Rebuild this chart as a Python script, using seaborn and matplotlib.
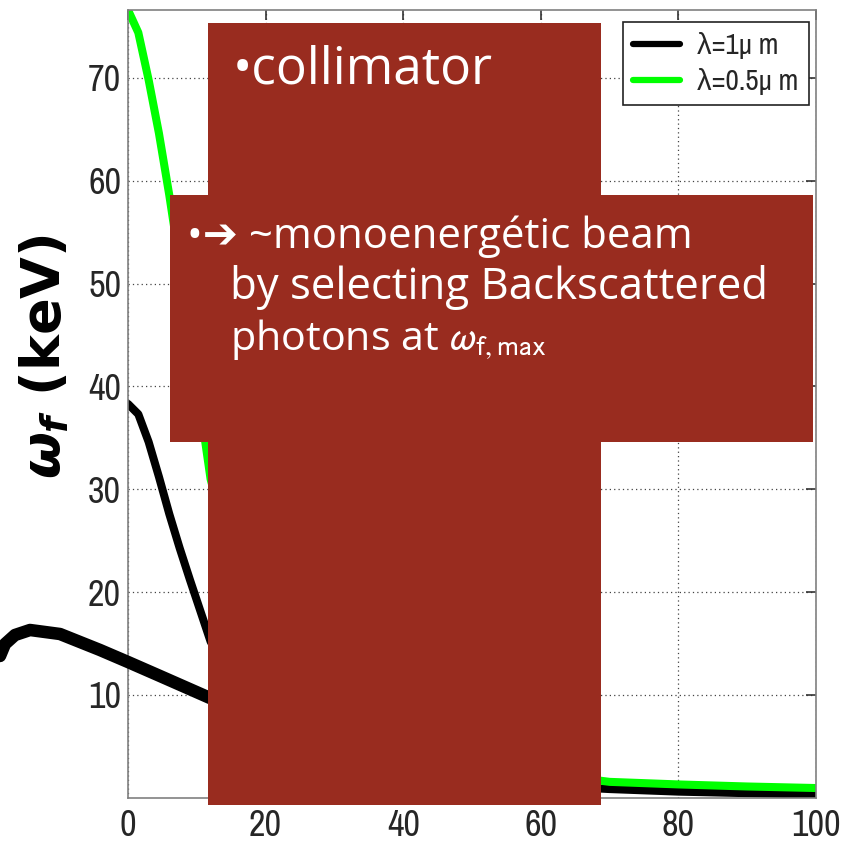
import numpy as np
import pandas as pd
import matplotlib
matplotlib.use("Agg")
import matplotlib.pyplot as plt
import matplotlib.font_manager as fm
import seaborn as sns
from matplotlib.patches import Rectangle
from matplotlib.lines import Line2D

# ---------------- data ----------------
angle = [0, 1.5, 3, 4.5, 6, 7.5, 9, 10.5, 12, 15, 20, 30, 40, 50, 60, 70, 80, 90, 100]
energy_1um = [38.3, 37.3, 34.6, 31.2, 27.6, 24.3, 21.2, 18.2, 15.2, 11.5, 7.5, 4.0, 2.5, 1.7, 1.2, 0.85, 0.6, 0.45, 0.3]
energy_05um = [76.6, 74.4, 69.8, 64.6, 58.6, 52.0, 45.0, 38.0, 31.0, 23.5, 15.5, 8.3, 5.1, 3.5, 2.4, 1.55, 1.3, 1.1, 0.95]
series_labels = ["λ=1μ m", "λ=0.5μ m"]
series_colors = ["#000000", "#00ff00"]
xticks = [0, 20, 40, 60, 80, 100]
yticks = [10, 20, 30, 40, 50, 60, 70]
ylabel_text = r"$\omega_f$ (keV)"
box1_text = "•collimator"
box2_lines = ["•➔ ~monoenergétic beam", "by selecting Backscattered", r"photons at $\omega_{\mathrm{f,max}}$"]

# decorative curve at left (slide artwork), figure pixel coords
decor_x = [0, 5, 15, 30, 60, 100, 128, 160, 210]
decor_y = [656, 644, 635, 630, 634, 650, 662, 676, 698]

# ---------------- setup ----------------
sns.set_style("white")
plt.rcParams["mathtext.fontset"] = "dejavusans"
plt.rcParams["mathtext.it"] = "DejaVu Sans:italic:bold"
plt.rcParams["mathtext.rm"] = "DejaVu Sans:bold"
plt.rcParams["mathtext.bf"] = "DejaVu Sans:bold"

names = sorted({f.name for f in fm.fontManager.ttflist})
narrow = [n for n in names if ("Narrow" in n or "Condensed" in n)]
tick_family = narrow[:1] + ["Liberation Sans", "DejaVu Sans"]
is_narrow = bool(narrow)

W, H = 846, 844
fig = plt.figure(figsize=(W / 100, H / 100), dpi=100)
fig.patch.set_facecolor("white")
ax_left, ax_right, ax_top, ax_bottom = 128, 816, 10, 797.8
ax = fig.add_axes([ax_left / W, 1 - ax_bottom / H, (ax_right - ax_left) / W, (ax_bottom - ax_top) / H])

df = pd.DataFrame({
    "angle": angle * 2,
    "energy": energy_1um + energy_05um,
    "series": [series_labels[0]] * len(angle) + [series_labels[1]] * len(angle),
})
sns.lineplot(data=df, x="angle", y="energy", hue="series",
             palette=dict(zip(series_labels, series_colors)),
             linewidth=5.8, ax=ax, legend=False, estimator=None)

ax.set_xlim(0, 100)
ax.set_ylim(0, 76.6)
ax.set_xticks(xticks)
ax.set_yticks(yticks)
ax.set_xlabel("")
ax.set_ylabel("")
ax.grid(True, color="#444444", linestyle=(0, (1, 2.5)), linewidth=0.9)
for sp in ax.spines.values():
    sp.set_color("#808080")
    sp.set_linewidth(1.2)
tick_size = 26 if is_narrow else 23
ax.tick_params(direction="in", length=7, width=1.2, color="#333333",
               top=True, right=True, labelsize=tick_size, pad=5)
ax.tick_params(axis="x", pad=8)
for lab in ax.get_xticklabels() + ax.get_yticklabels():
    lab.set_family(tick_family)

handles = [Line2D([], [], color=c, linewidth=4.5) for c in series_colors]
leg = ax.legend(handles, series_labels, loc="upper right",
                bbox_to_anchor=(809 / W, 1 - 22 / H), bbox_transform=fig.transFigure,
                borderaxespad=0, fancybox=False, framealpha=1, edgecolor="#222222",
                prop={"family": tick_family, "size": 21 if is_narrow else 19}, handlelength=1.6,
                handletextpad=0.6, labelspacing=0.3, borderpad=0.35)
leg.get_frame().set_linewidth(1.2)

# decoration curve
fig.add_artist(Line2D(np.array(decor_x) / W, 1 - np.array(decor_y) / H,
                      transform=fig.transFigure, color="black", linewidth=9,
                      solid_capstyle="round", solid_joinstyle="round", zorder=4))

red = "#992c1f"
fig.add_artist(Rectangle((208 / W, 1 - 805 / H), (601 - 208) / W, (805 - 23) / H,
                         transform=fig.transFigure, facecolor=red, edgecolor="none", zorder=5))
fig.add_artist(Rectangle((170 / W, 1 - 442 / H), (813 - 170) / W, (442 - 195) / H,
                         transform=fig.transFigure, facecolor=red, edgecolor="none", zorder=5))

renderer = fig.canvas.get_renderer()
slide_family = ["Open Sans", "DejaVu Sans"]


def fit_text(s, x0, base, x1, **kw):
    t = fig.text(x0 / W, 1 - base / H, s, ha="left", va="baseline", fontsize=30,
                 color="white", zorder=6, family=slide_family, **kw)
    w = t.get_window_extent(renderer).width
    t.set_fontsize(30 * (x1 - x0) / w)
    return t


fit_text(box1_text, 233, 83, 493, math_fontfamily="dejavusans")
fit_text(box2_lines[0], 187, 248, 692, math_fontfamily="dejavusans")
fit_text(box2_lines[1], 230, 299, 768, math_fontfamily="dejavusans")
fit_text(box2_lines[2], 230, 350, 546, math_fontfamily="stixsans")

# y label
yl = fig.text(45 / W, 1 - 357 / H, ylabel_text, rotation=90, ha="center", va="center",
              fontsize=30, fontweight="bold", color="black", family="DejaVu Sans",
              math_fontfamily="custom")
plt.rcParams["mathtext.fontset"] = "custom"
hh = yl.get_window_extent(renderer).height
yl.set_fontsize(30 * 245 / hh)

fig.savefig("out.png", dpi=100)
